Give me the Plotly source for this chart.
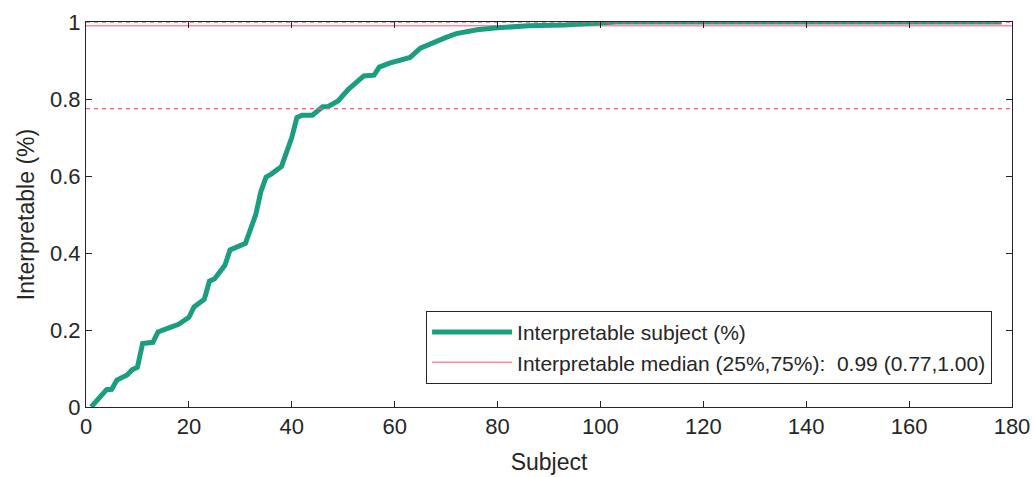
import plotly.graph_objects as go

# Sorted per-subject interpretable fraction
subjects = [1, 4, 5, 6, 8, 9, 10, 11, 13, 14, 16, 18, 20, 21, 23, 24, 25, 27, 28, 31,
            33, 34, 35, 36, 38, 39, 40, 41, 42, 44, 46, 47, 49, 51, 53, 54, 56, 57, 59,
            61, 63, 65, 68, 70, 72, 76, 80, 86, 93, 100, 103, 178]
interpretable = [0.0, 0.045, 0.046, 0.07, 0.083, 0.097, 0.103, 0.165, 0.168, 0.195,
                 0.205, 0.215, 0.233, 0.26, 0.28, 0.327, 0.333, 0.368, 0.408, 0.425,
                 0.50, 0.56, 0.597, 0.605, 0.625, 0.66, 0.70, 0.752, 0.758, 0.758,
                 0.78, 0.78, 0.795, 0.825, 0.847, 0.86, 0.862, 0.883, 0.893, 0.901,
                 0.908, 0.932, 0.95, 0.96, 0.97, 0.98, 0.985, 0.99, 0.992, 0.997,
                 1.0, 1.0]

median_val = 0.99
q25 = 0.775
q75 = 1.0
x_span = [0, 180]

x_ticks = [0, 20, 40, 60, 80, 100, 120, 140, 160, 180]
y_ticks = [0, 0.2, 0.4, 0.6, 0.8, 1]
y_tick_text = ["0", "0.2", "0.4", "0.6", "0.8", "1"]

teal = "#1b9e80"
pink_solid = "#ff8a9c"
pink_dash = "#ff5a75"
axis_col = "#262626"
FONT = "Liberation Sans, Arial, sans-serif"

fig = go.Figure()

fig.add_trace(go.Scatter(
    x=x_span, y=[median_val, median_val], mode="lines",
    line=dict(color=pink_solid, width=1.5),
    name="Interpretable median (25%,75%):\u00a0\u00a00.99 (0.77,1.00)",
    legendrank=2, hoverinfo="skip"))

fig.add_trace(go.Scatter(
    x=subjects, y=interpretable, mode="lines",
    line=dict(color=teal, width=5),
    name="Interpretable subject (%)", legendrank=1))

for q in (q25, q75):
    fig.add_trace(go.Scatter(
        x=x_span, y=[q, q], mode="lines",
        line=dict(color=pink_dash, width=1.3, dash="4px,4px"),
        showlegend=False, hoverinfo="skip"))

axis_common = dict(
    showgrid=False, zeroline=False, showline=True, linecolor=axis_col, linewidth=1,
    mirror="ticks", ticks="inside", ticklen=6, tickcolor=axis_col, tickwidth=1,
    tickfont=dict(family=FONT, size=22, color=axis_col), automargin=False,
)

fig.update_layout(
    width=1033, height=477,
    margin=dict(l=86, r=21, t=22, b=70),
    paper_bgcolor="white", plot_bgcolor="white",
    font=dict(family=FONT, color=axis_col),
    xaxis=dict(range=x_span, tickvals=x_ticks, **axis_common,
               title=dict(text="Subject", font=dict(family=FONT, size=23, color=axis_col),
                          standoff=15)),
    yaxis=dict(range=[0, 1], tickvals=y_ticks, ticktext=y_tick_text, **axis_common,
               title=dict(text="Interpretable (%)", font=dict(family=FONT, size=23, color=axis_col),
                          standoff=8)),
    legend=dict(x=0.9785, y=0.06, xanchor="right", yanchor="bottom",
                bgcolor="white", bordercolor=axis_col, borderwidth=1,
                font=dict(family=FONT, size=21, color=axis_col),
                tracegroupgap=0, itemwidth=80),
    showlegend=True,
)

fig.write_html(
    "out.html",
    config={"displayModeBar": False},
    post_script="document.body.style.margin='0';document.body.style.overflow='hidden';",
)
